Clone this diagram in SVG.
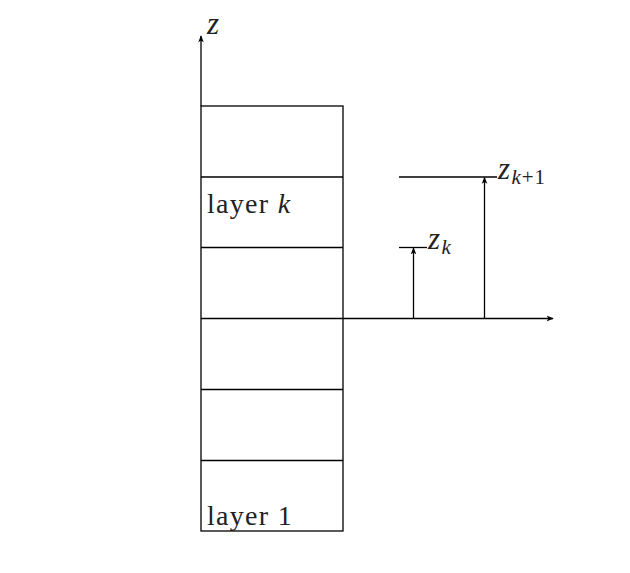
<svg xmlns="http://www.w3.org/2000/svg" width="630" height="573" viewBox="0 0 630 573">
<style>
.ln{stroke:#000;stroke-width:1.3;fill:none}
.t{font-family:"Liberation Serif","DejaVu Serif",serif;font-size:28px;fill:#222;letter-spacing:1.3px}
.i{font-style:italic}
.z{font-size:31px}
.s{font-size:21px;letter-spacing:1px}
</style>
<defs>
<marker id="ah" viewBox="0 0 10 10" refX="9" refY="5" markerWidth="7" markerHeight="7" orient="auto" markerUnits="userSpaceOnUse">
<path d="M0,1 L10,5 L0,9 L2.5,5 Z" fill="#000"/>
</marker>
</defs>
<rect width="630" height="573" fill="#fff"/>
<g id="layers">
<rect x="201" y="106" width="142" height="425" class="ln"/>
<line x1="201" y1="177" x2="343" y2="177" class="ln"/>
<line x1="201" y1="247.5" x2="343" y2="247.5" class="ln"/>
<line x1="201" y1="318.5" x2="343" y2="318.5" class="ln"/>
<line x1="201" y1="389.5" x2="343" y2="389.5" class="ln"/>
<line x1="201" y1="460.5" x2="343" y2="460.5" class="ln"/>
<text x="207" y="213" class="t">layer <tspan class="i">k</tspan></text>
<text x="207" y="525" class="t">layer 1</text>
</g>
<g id="connectors">
<line x1="201" y1="106" x2="201" y2="36" class="ln" marker-end="url(#ah)"/>
<line x1="343" y1="318.5" x2="553" y2="318.5" class="ln" marker-end="url(#ah)"/>
<line x1="399" y1="247.5" x2="427" y2="247.5" class="ln"/>
<line x1="413.5" y1="318.5" x2="413.5" y2="248" class="ln" marker-end="url(#ah)"/>
<line x1="399" y1="177" x2="497" y2="177" class="ln"/>
<line x1="484.5" y1="318.5" x2="484.5" y2="177.5" class="ln" marker-end="url(#ah)"/>
</g>
<g id="labels">
<text x="207" y="34" class="t i z">z</text>
<text x="428" y="249" class="t"><tspan class="i z">z</tspan><tspan class="i s" dy="5">k</tspan></text>
<text x="498" y="179" class="t"><tspan class="i z">z</tspan><tspan class="s" dy="5"><tspan class="i">k</tspan>+1</tspan></text>
</g>
</svg>
